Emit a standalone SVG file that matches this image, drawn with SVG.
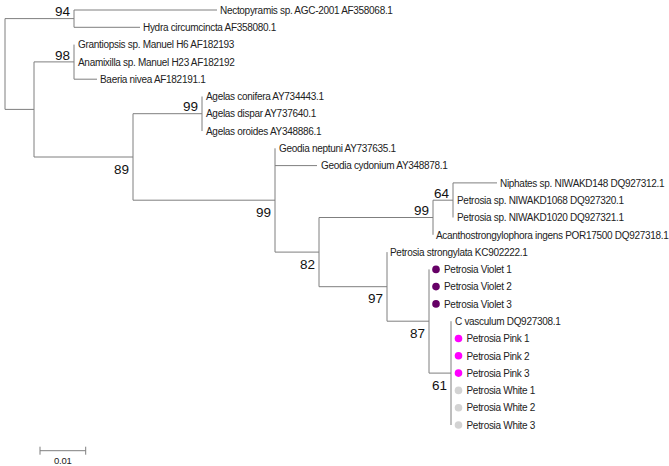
<svg xmlns="http://www.w3.org/2000/svg" width="669" height="466" viewBox="0 0 669 466">
<style>
.br{stroke:#7f7f7f;stroke-width:1;fill:none}
.lf{font-family:"Liberation Sans",Arial,sans-serif;font-size:10px;letter-spacing:-0.3px;fill:#222}
.bs{font-family:"Liberation Sans",Arial,sans-serif;font-size:13.5px;fill:#111;text-anchor:end}
.sc{font-family:"Liberation Sans",Arial,sans-serif;font-size:9.5px;letter-spacing:-0.2px;fill:#222;text-anchor:middle}
.v{fill:#660066}.p{fill:#ff00ff}.w{fill:#d3d3d3}
</style>
<rect width="669" height="466" fill="#fff"/>
<g id="connectors" class="br">
<path d="M5 18.6V109.4M5 18.6H74M5 109.4H34"/>
<path d="M74 10V27.3M74 10H217M74 27.3H140"/>
<path d="M34 61.9V157M34 61.9H74M34 157H133"/>
<path d="M74 44.6V79.2M74 79.2H97"/>
<path d="M133 113.7V200.2M133 113.7H202M133 200.2H275"/>
<path d="M202 96.5V131"/>
<path d="M275 148.3V252.1M275 165.6H317M275 252.1H319"/>
<path d="M319 217.5V286.7M319 217.5H433M319 286.7H387"/>
<path d="M433 200.2V234.8M433 200.2H453"/>
<path d="M453 182.9V217.5M453 182.9H497"/>
<path d="M387 252.1V321.2M387 321.2H429"/>
<path d="M429 269.4V373.1M429 373.1H451"/>
<path d="M451 321.2V425"/>
</g>
<g id="bootstrap">
<g id="n94"><text class="bs" x="70" y="16.3">94</text></g>
<g id="n98"><text class="bs" x="70" y="59.6">98</text></g>
<g id="n89"><text class="bs" x="129" y="173.7">89</text></g>
<g id="n99a"><text class="bs" x="198" y="111.4">99</text></g>
<g id="n99b"><text class="bs" x="271" y="216.9">99</text></g>
<g id="n82"><text class="bs" x="315" y="268.8">82</text></g>
<g id="n99c"><text class="bs" x="429" y="215.2">99</text></g>
<g id="n64"><text class="bs" x="449" y="197.9">64</text></g>
<g id="n97"><text class="bs" x="383" y="303.4">97</text></g>
<g id="n87"><text class="bs" x="425" y="337.9">87</text></g>
<g id="n61"><text class="bs" x="447" y="389.8">61</text></g>
</g>
<g id="leaves">
<g id="t1"><text class="lf" x="220" y="13.7">Nectopyramis sp. AGC-2001 AF358068.1</text></g>
<g id="t2"><text class="lf" x="143" y="31">Hydra circumcincta AF358080.1</text></g>
<g id="t3"><text class="lf" x="78" y="48.3">Grantiopsis sp. Manuel H6 AF182193</text></g>
<g id="t4"><text class="lf" x="78" y="65.6">Anamixilla sp. Manuel H23 AF182192</text></g>
<g id="t5"><text class="lf" x="100" y="82.9">Baeria nivea AF182191.1</text></g>
<g id="t6"><text class="lf" x="206" y="100.2">Agelas conifera AY734443.1</text></g>
<g id="t7"><text class="lf" x="206" y="117.4">Agelas dispar AY737640.1</text></g>
<g id="t8"><text class="lf" x="206" y="134.7">Agelas oroides AY348886.1</text></g>
<g id="t9"><text class="lf" x="279" y="152">Geodia neptuni AY737635.1</text></g>
<g id="t10"><text class="lf" x="321" y="169.3">Geodia cydonium AY348878.1</text></g>
<g id="t11"><text class="lf" x="500" y="186.6">Niphates sp. NIWAKD148 DQ927312.1</text></g>
<g id="t12"><text class="lf" x="457" y="203.9">Petrosia sp. NIWAKD1068 DQ927320.1</text></g>
<g id="t13"><text class="lf" x="457" y="221.2">Petrosia sp. NIWAKD1020 DQ927321.1</text></g>
<g id="t14"><text class="lf" x="436" y="238.5">Acanthostrongylophora ingens POR17500 DQ927318.1</text></g>
<g id="t15"><text class="lf" x="390" y="255.8">Petrosia strongylata KC902222.1</text></g>
<g id="t16"><circle class="v" cx="436" cy="269.4" r="3.8"/><text class="lf" x="444" y="273.1">Petrosia Violet 1</text></g>
<g id="t17"><circle class="v" cx="436" cy="286.6" r="3.8"/><text class="lf" x="444" y="290.3">Petrosia Violet 2</text></g>
<g id="t18"><circle class="v" cx="436" cy="303.9" r="3.8"/><text class="lf" x="444" y="307.6">Petrosia Violet 3</text></g>
<g id="t19"><text class="lf" x="455" y="324.9">C vasculum DQ927308.1</text></g>
<g id="t20"><circle class="p" cx="458.5" cy="338.5" r="3.8"/><text class="lf" x="466.5" y="342.2">Petrosia Pink 1</text></g>
<g id="t21"><circle class="p" cx="458.5" cy="355.8" r="3.8"/><text class="lf" x="466.5" y="359.5">Petrosia Pink 2</text></g>
<g id="t22"><circle class="p" cx="458.5" cy="373.1" r="3.8"/><text class="lf" x="466.5" y="376.8">Petrosia Pink 3</text></g>
<g id="t23"><circle class="w" cx="458.5" cy="390.4" r="3.8"/><text class="lf" x="466.5" y="394.1">Petrosia White 1</text></g>
<g id="t24"><circle class="w" cx="458.5" cy="407.7" r="3.8"/><text class="lf" x="466.5" y="411.4">Petrosia White 2</text></g>
<g id="t25"><circle class="w" cx="458.5" cy="425" r="3.8"/><text class="lf" x="466.5" y="428.7">Petrosia White 3</text></g>
</g>
<g id="scale">
<path class="br" d="M40 450.7H85.7M40 446.7V454.7M85.7 446.7V454.7"/>
<text class="sc" x="62.8" y="464">0.01</text>
</g>
</svg>
